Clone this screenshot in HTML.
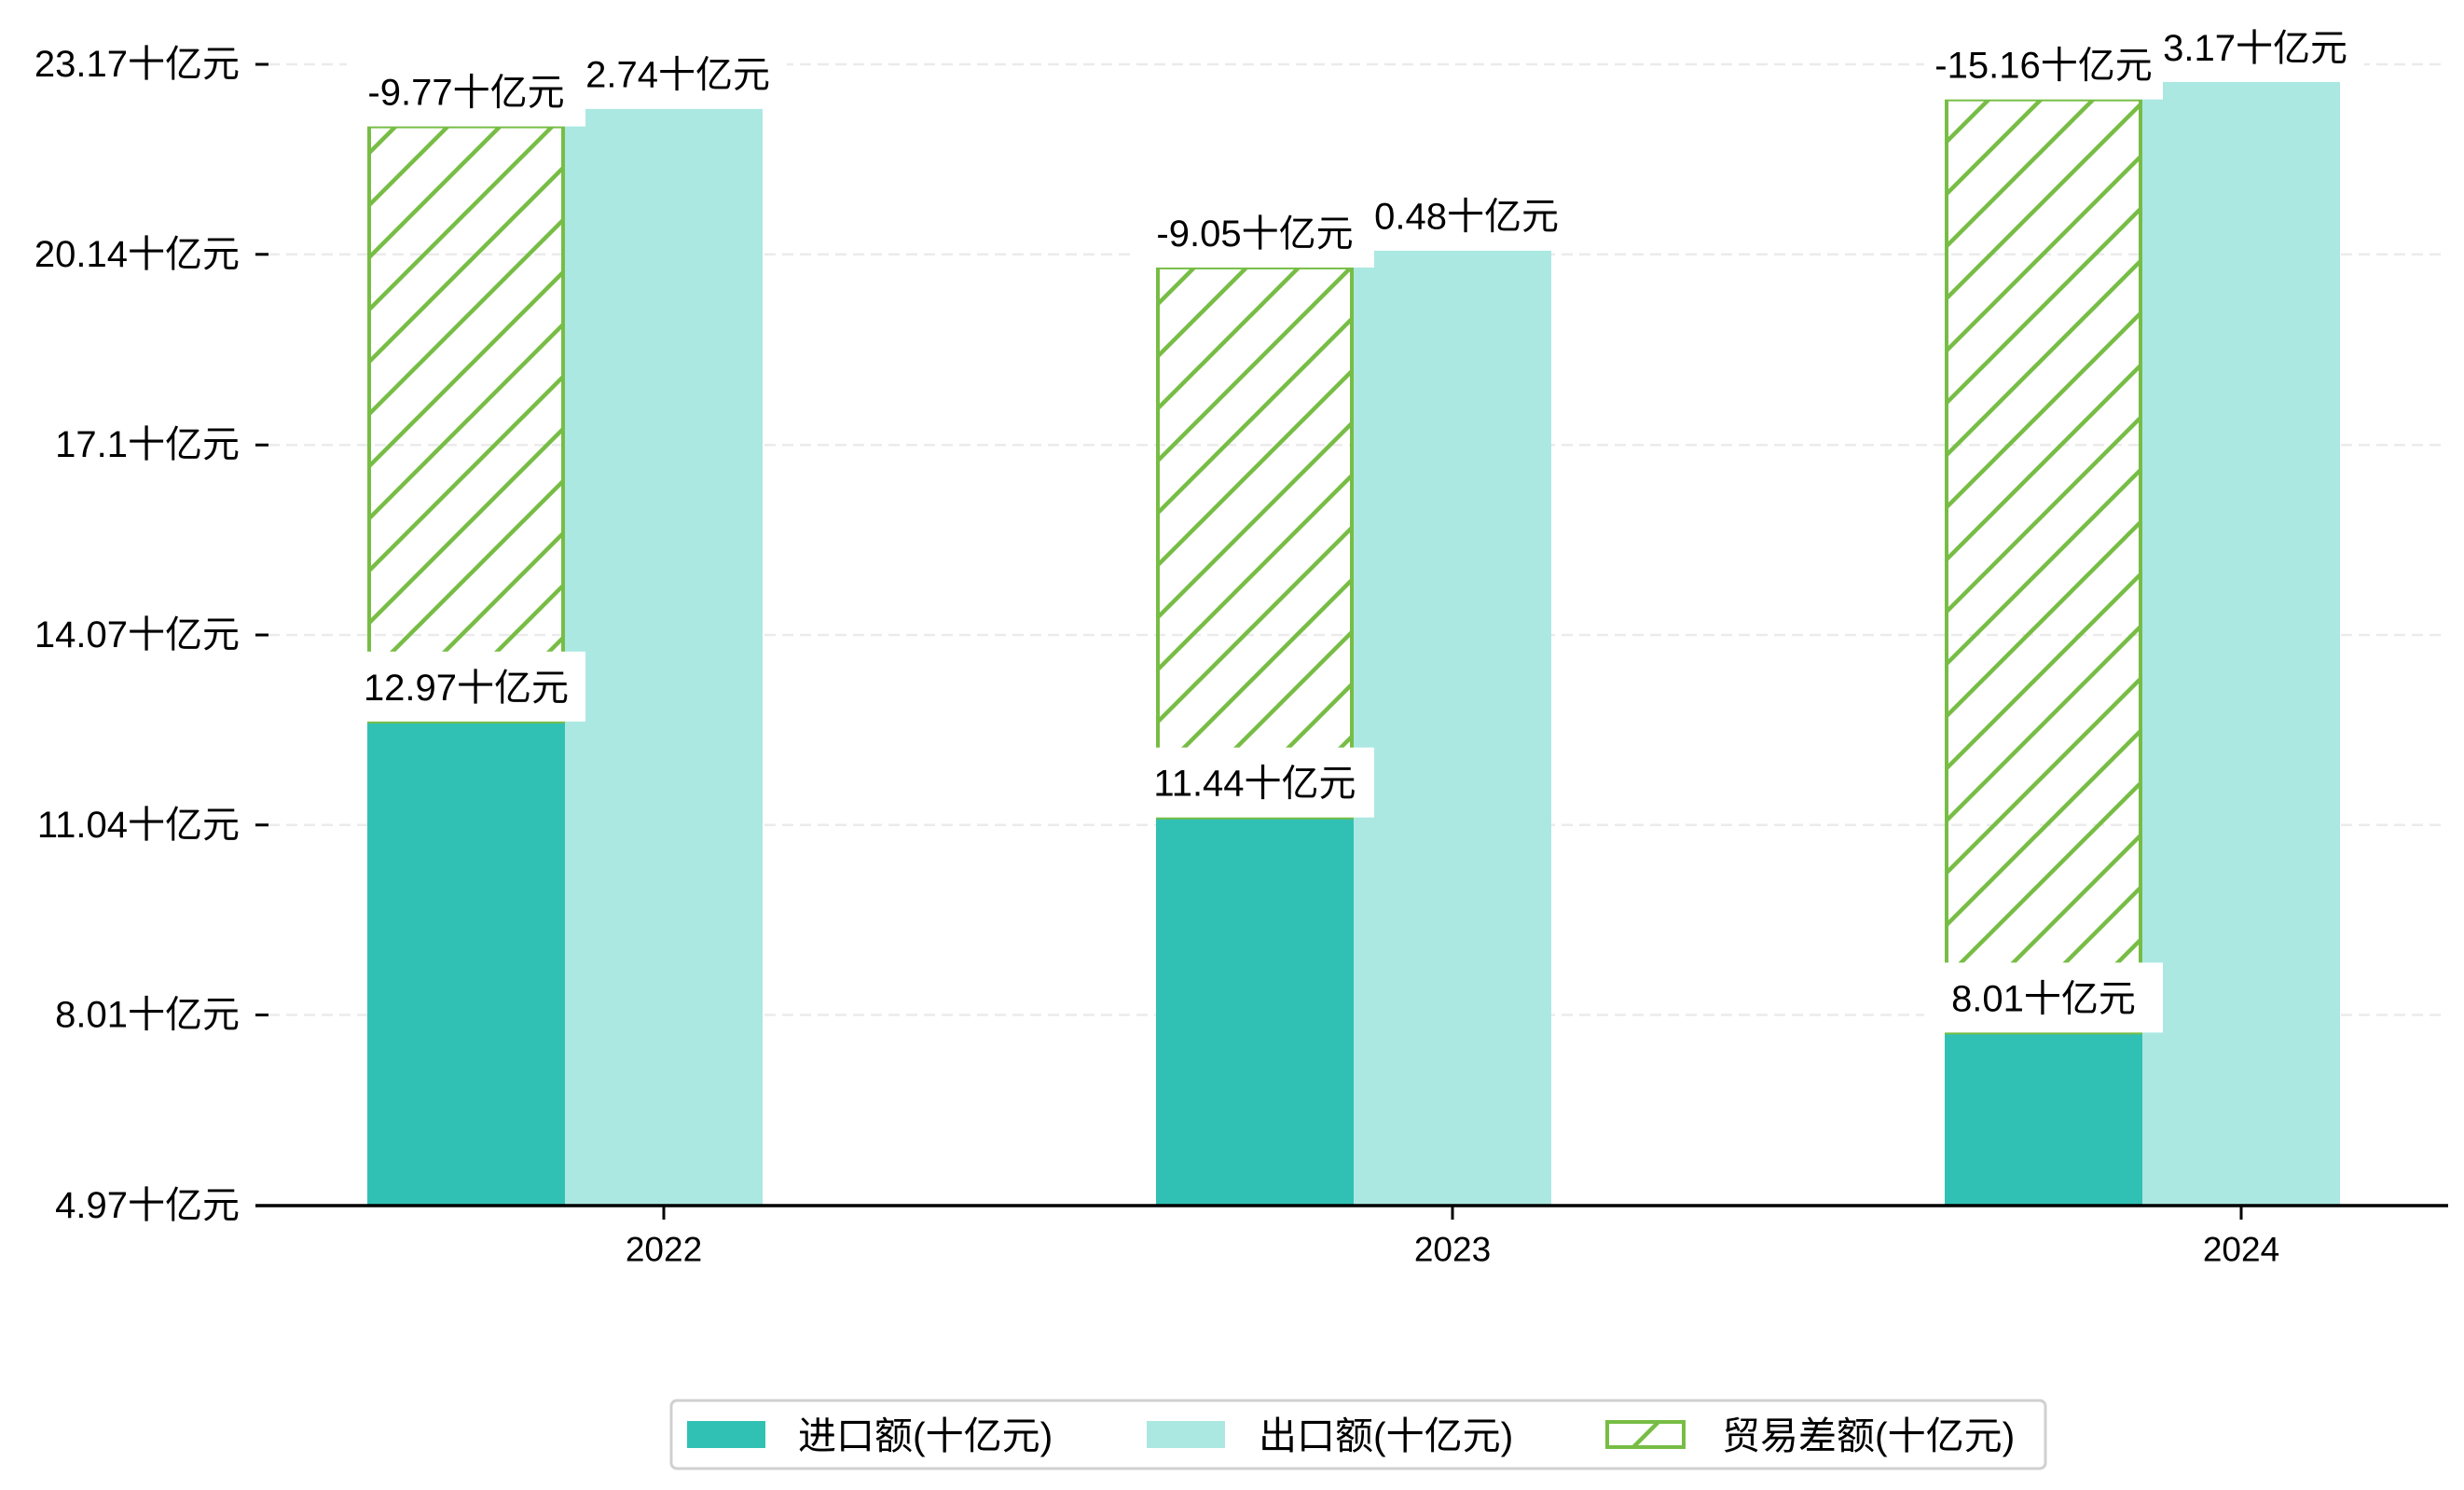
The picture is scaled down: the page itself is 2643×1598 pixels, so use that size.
<!DOCTYPE html>
<html><head><meta charset="utf-8"><style>
html,body{margin:0;padding:0;background:#fff;}
svg{display:block;}
text{font-family:"WenQuanYi Zen Hei","Liberation Sans",sans-serif;fill:#000;}
text.yr{font-family:"Liberation Sans","WenQuanYi Zen Hei",sans-serif;}
</style></head><body>
<svg id="chart" width="2643" height="1598" viewBox="0 0 2643 1598" xmlns="http://www.w3.org/2000/svg">
<defs>
<pattern id="hatch" patternUnits="userSpaceOnUse" width="56" height="56">
<line x1="-14" y1="70" x2="70" y2="-14" stroke="#77bd45" stroke-width="4.5"/>
<line x1="-14" y1="14" x2="14" y2="-14" stroke="#77bd45" stroke-width="4.5"/>
<line x1="42" y1="70" x2="70" y2="42" stroke="#77bd45" stroke-width="4.5"/>
</pattern>
</defs>
<g id="grid"></g>
<g id="bars"></g>
<g id="labels"></g>
<g id="axes"></g>
<g id="legend">
<rect x="720" y="1502" width="1474" height="73" rx="6" fill="#fff" stroke="#d0d0d0" stroke-width="3"/>
<g>
<rect x="737" y="1524" width="84" height="29" fill="#31c1b4"/>
<text x="856" y="1540" font-size="41" dominant-baseline="central">进口额(十亿元)</text>
</g>
<g>
<rect x="1230" y="1524" width="84" height="29" fill="#abe8e2"/>
<text x="1350" y="1540" font-size="41" dominant-baseline="central">出口额(十亿元)</text>
</g>
<g>
<rect x="1724" y="1525" width="82" height="27" fill="url(#hatch)" stroke="#77bd45" stroke-width="4"/>
<text x="1847" y="1540" font-size="41" dominant-baseline="central">贸易差额(十亿元)</text>
</g>
</g>
</svg>
<script>
const categories = ["2022", "2023", "2024"];
const importVals = [12.97, 11.44, 8.01];
const exportVals = [22.74, 20.48, 23.17];
const balanceVals = [-9.77, -9.05, -15.16];
const tickVals = [4.97, 8.01, 11.04, 14.07, 17.1, 20.14, 23.17];
const tickLabels = ["4.97十亿元", "8.01十亿元", "11.04十亿元", "14.07十亿元", "17.1十亿元", "20.14十亿元", "23.17十亿元"];

const NS = "http://www.w3.org/2000/svg";
const Y0 = 1293, YT = 69, VMIN = 4.97, VMAX = 23.17;
const SHIFT = 0.28;
const X0 = 712, XSTEP = 846, BW = 212;
function yAxis(v){ return Y0 - (v - VMIN) / (VMAX - VMIN) * (Y0 - YT); }
function yBar(v){ return yAxis(v - SHIFT); }
function xCat(i){ return X0 + i * XSTEP; }
function mk(tag, attrs, parent){
  const e = document.createElementNS(NS, tag);
  for (const k in attrs) e.setAttribute(k, attrs[k]);
  parent.appendChild(e);
  return e;
}
const grid = document.getElementById('grid');
const bars = document.getElementById('bars');
const labels = document.getElementById('labels');
const axes = document.getElementById('axes');

tickVals.forEach((t, i) => {
  const y = yAxis(t);
  if (i > 0) {
    const g = mk('line', {x1: 288, x2: 2620, y1: y, y2: y, stroke: '#ebebeb', 'stroke-width': 2.5, 'stroke-dasharray': '12 7'}, grid);
    
    
  }
  const tk = mk('line', {x1: 274, x2: 288, y1: y, y2: y, stroke: '#000', 'stroke-width': 3}, axes);
  
  
  const tl = mk('text', {x: 257, y: y, 'font-size': 40, 'text-anchor': 'end', 'dominant-baseline': 'central'}, axes);
  tl.textContent = tickLabels[i];
  
  
});

const spine = mk('line', {x1: 274, x2: 2626, y1: Y0, y2: Y0, stroke: '#000', 'stroke-width': 3.5}, axes);



function addLabel(cx, top, txt, name){
  const g = mk('g', {}, labels);
  
  
  mk('rect', {x: cx - 128, y: top - 75, width: 256, height: 75, fill: '#fff'}, g);
  const t = mk('text', {x: cx, y: top - 36, 'font-size': 40, 'text-anchor': 'middle', 'dominant-baseline': 'central'}, g);
  t.textContent = txt;
}

categories.forEach((c, i) => {
  const cx = xCat(i);
  const ix = cx - BW * 1.5, ex = cx - BW / 2;
  const iTop = yBar(importVals[i]);
  const b1 = mk('rect', {x: ix, y: iTop, width: BW, height: Y0 - iTop, fill: '#31c1b4'}, bars);
  
  
  const eTop = yBar(exportVals[i]);
  const b2 = mk('rect', {x: ex, y: eTop, width: BW, height: Y0 - eTop, fill: '#abe8e2'}, bars);
  
  
  const hTop = yBar(importVals[i] + Math.abs(balanceVals[i]) - SHIFT);
  const b3 = mk('rect', {x: ix + 2, y: hTop, width: BW - 4, height: iTop - hTop, fill: 'url(#hatch)', stroke: '#77bd45', 'stroke-width': 4}, bars);
  
  

  const tk = mk('line', {x1: cx, x2: cx, y1: Y0, y2: Y0 + 15, stroke: '#000', 'stroke-width': 3}, axes);
  
  
  const xl = mk('text', {x: cx, y: 1340, 'font-size': 37, 'text-anchor': 'middle', 'dominant-baseline': 'central', 'class': 'yr'}, axes);
  xl.textContent = c;
  
  
});
categories.forEach((c, i) => {
  addLabel(xCat(i) - BW, yBar(importVals[i]), importVals[i] + '十亿元', 'import-label-' + c);
});
categories.forEach((c, i) => {
  addLabel(xCat(i) + 4, yBar(exportVals[i]), exportVals[i] + '十亿元', 'export-label-' + c);
});
categories.forEach((c, i) => {
  const hTop = yBar(importVals[i] + Math.abs(balanceVals[i]) - SHIFT);
  addLabel(xCat(i) - BW, hTop, balanceVals[i] + '十亿元', 'balance-label-' + c);
});
</script>
</body></html>
